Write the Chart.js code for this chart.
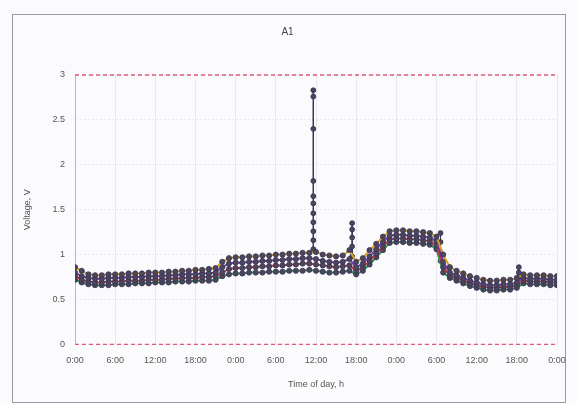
<!DOCTYPE html>
<html>
<head>
<meta charset="utf-8">
<script src="https://cdn.jsdelivr.net/npm/chart.js@4/dist/chart.umd.min.js"></script>
<style>
  html, body { margin: 0; padding: 0; background: #fbfbfd; }
  #wrap { width: 577px; height: 404px; position: relative; }
</style>
</head>
<body>
<div id="wrap"><canvas id="volt-chart" width="577" height="404"></canvas></div>
<script>
  // hours since start of the 3-day log
  var HOURS = [
    0, 1, 2, 3, 4, 5, 6, 7, 8, 9, 10, 11,
    12, 13, 14, 15, 16, 17, 18, 19, 20, 21, 22, 23,
    24, 25, 26, 27, 28, 29, 30, 31, 32, 33, 34, 35,
    36, 37, 38, 39, 40, 41, 42, 43, 44, 45, 46, 47,
    48, 49, 50, 51, 52, 53, 54, 55, 56, 57, 58, 59,
    60, 61, 62, 63, 64, 65, 66, 67, 68, 69, 70, 71,
    72
  ];

  var TICK_LABELS = ['0:00', '6:00', '12:00', '18:00', '0:00', '6:00', '12:00',
                     '18:00', '0:00', '6:00', '12:00', '18:00', '0:00'];

  var CELL_1 = [
    0.86, 0.82, 0.78, 0.77, 0.77, 0.78, 0.78, 0.78, 0.79, 0.79, 0.79, 0.80,
    0.80, 0.80, 0.81, 0.81, 0.82, 0.82, 0.83, 0.83, 0.84, 0.85, 0.92, 0.96,
    0.97, 0.97, 0.98, 0.98, 0.99, 0.99, 1.00, 1.00, 1.01, 1.01, 1.02, 1.02,
    1.03, 1.00, 0.99, 0.98, 0.99, 1.05, 0.92, 0.96, 1.05, 1.12, 1.20, 1.26,
    1.27, 1.27, 1.26, 1.26, 1.25, 1.24, 1.20, 1.00, 0.86, 0.82, 0.79, 0.76,
    0.74, 0.72, 0.71, 0.71, 0.72, 0.72, 0.74, 0.78, 0.77, 0.77, 0.77, 0.76,
    0.76
  ];
  var CELL_2 = [
    0.80, 0.76, 0.74, 0.73, 0.73, 0.74, 0.74, 0.74, 0.75, 0.75, 0.75, 0.76,
    0.76, 0.76, 0.77, 0.77, 0.78, 0.78, 0.78, 0.79, 0.79, 0.80, 0.86, 0.90,
    0.91, 0.91, 0.92, 0.92, 0.93, 0.93, 0.94, 0.94, 0.95, 0.95, 0.96, 0.96,
    0.95, 0.93, 0.92, 0.91, 0.92, 0.95, 0.86, 0.90, 0.98, 1.06, 1.14, 1.21,
    1.22, 1.22, 1.21, 1.21, 1.20, 1.19, 1.15, 0.92, 0.80, 0.77, 0.74, 0.71,
    0.69, 0.67, 0.66, 0.66, 0.67, 0.67, 0.69, 0.74, 0.73, 0.73, 0.73, 0.72,
    0.72
  ];
  var CELL_3 = [
    0.76, 0.72, 0.70, 0.69, 0.69, 0.70, 0.70, 0.70, 0.71, 0.71, 0.71, 0.72,
    0.72, 0.72, 0.73, 0.73, 0.74, 0.74, 0.74, 0.75, 0.75, 0.76, 0.80, 0.84,
    0.85, 0.85, 0.86, 0.86, 0.87, 0.87, 0.88, 0.88, 0.89, 0.89, 0.90, 0.90,
    0.89, 0.88, 0.87, 0.86, 0.87, 0.88, 0.82, 0.86, 0.93, 1.01, 1.09, 1.17,
    1.18, 1.18, 1.17, 1.17, 1.16, 1.15, 1.10, 0.86, 0.77, 0.74, 0.71, 0.68,
    0.66, 0.64, 0.63, 0.63, 0.64, 0.64, 0.66, 0.71, 0.70, 0.70, 0.70, 0.69,
    0.69
  ];
  var CELL_4 = [
    0.72, 0.69, 0.67, 0.66, 0.66, 0.66, 0.67, 0.67, 0.67, 0.68, 0.68, 0.68,
    0.69, 0.69, 0.69, 0.70, 0.70, 0.70, 0.71, 0.71, 0.71, 0.72, 0.76, 0.78,
    0.79, 0.79, 0.80, 0.80, 0.80, 0.81, 0.81, 0.81, 0.82, 0.82, 0.82, 0.83,
    0.82, 0.81, 0.80, 0.80, 0.81, 0.82, 0.78, 0.82, 0.89, 0.97, 1.05, 1.13,
    1.14, 1.14, 1.13, 1.13, 1.12, 1.11, 1.06, 0.80, 0.74, 0.71, 0.68, 0.65,
    0.63, 0.61, 0.60, 0.60, 0.61, 0.61, 0.63, 0.68, 0.67, 0.67, 0.67, 0.66,
    0.66
  ];

  // short transients, each read as a vertical run of samples
  var SPIKE_1_T = [35.6, 35.6, 35.6, 35.6, 35.6, 35.6, 35.6, 35.6, 35.6, 35.6, 35.6];
  var SPIKE_1_V = [2.83, 2.76, 2.40, 1.82, 1.65, 1.57, 1.46, 1.36, 1.26, 1.16, 1.06];
  var SPIKE_2_T = [41.4, 41.4, 41.4, 41.4, 41.4];
  var SPIKE_2_V = [1.35, 1.28, 1.19, 1.09, 0.98];
  var SPIKE_3_T = [54.6, 54.6, 54.6, 54.6];
  var SPIKE_3_V = [1.24, 1.14, 1.03, 0.93];
  var SPIKE_4_T = [66.3, 66.3, 66.3];
  var SPIKE_4_V = [0.86, 0.80, 0.75];

  var LIMIT_T = [0, 72];
  var LIMIT_HIGH = [3, 3];
  var LIMIT_LOW = [0, 0];

  function pts(xs, ys) {
    return xs.map(function (x, i) { return { x: x, y: ys[i] }; });
  }

  function cell(label, ys, color) {
    return {
      label: label,
      data: pts(HOURS, ys),
      borderColor: color,
      borderWidth: 2,
      pointRadius: 2.6,
      pointBackgroundColor: '#4a4660',
      pointBorderColor: '#3a3450',
      pointBorderWidth: 0.8
    };
  }

  function spike(ts, vs) {
    return {
      label: 'spike',
      data: pts(ts, vs),
      borderColor: '#3a3450',
      borderWidth: 1,
      pointRadius: 2.4,
      pointBackgroundColor: '#4a4660',
      pointBorderColor: '#3a3450'
    };
  }

  function limit(ys) {
    return {
      label: 'limit',
      data: pts(LIMIT_T, ys),
      borderColor: '#e0587e',
      borderWidth: 1.4,
      borderDash: [4, 3],
      pointRadius: 0,
      clip: 4
    };
  }

  var frame = {
    id: 'frame',
    beforeDraw: function (chart) {
      var ctx = chart.ctx;
      ctx.save();
      ctx.strokeStyle = '#9a9aa6';
      ctx.lineWidth = 1;
      ctx.strokeRect(12.5, 14.5, 553, 388);
      ctx.restore();
    }
  };

  var FONT = { family: 'Liberation Sans, Arial, sans-serif', size: 9 };

  new Chart(document.getElementById('volt-chart'), {
    type: 'line',
    data: {
      datasets: [
        limit(LIMIT_HIGH),
        limit(LIMIT_LOW),
        cell('Cell 1', CELL_1, '#d8a020'),
        cell('Cell 2', CELL_2, '#7a3aa8'),
        cell('Cell 3', CELL_3, '#c03a3a'),
        cell('Cell 4', CELL_4, '#2f9a52'),
        spike(SPIKE_1_T, SPIKE_1_V),
        spike(SPIKE_2_T, SPIKE_2_V),
        spike(SPIKE_3_T, SPIKE_3_V),
        spike(SPIKE_4_T, SPIKE_4_V)
      ]
    },
    options: {
      responsive: false,
      animation: false,
      layout: { padding: { left: 18, right: 20, top: 16, bottom: 9 } },
      plugins: {
        legend: { display: false },
        tooltip: { enabled: false },
        title: {
          display: true,
          text: 'A1',
          color: '#444',
          font: { family: FONT.family, size: 10, weight: 'normal' },
          padding: { top: 10, bottom: 37 }
        }
      },
      scales: {
        x: {
          type: 'linear',
          min: 0,
          max: 72,
          grid: { color: 'rgba(150,150,170,0.18)', drawTicks: false },
          border: { display: false },
          ticks: {
            stepSize: 6,
            color: '#555',
            font: FONT,
            padding: 11,
            maxRotation: 0,
            callback: function (v) { return TICK_LABELS[Math.round(v / 6)]; }
          },
          title: {
            display: true,
            text: 'Time of day, h',
            color: '#555',
            font: FONT,
            padding: { top: 2, bottom: 5 }
          }
        },
        y: {
          min: 0,
          max: 3,
          grid: { color: 'rgba(150,150,170,0.18)', drawTicks: false },
          border: { color: '#b8b8c4', dash: [2, 2] },
          ticks: {
            stepSize: 0.5,
            color: '#555',
            font: FONT,
            padding: 10,
            callback: function (v) { return String(v); }
          },
          title: {
            display: true,
            text: 'Voltage, V',
            color: '#555',
            font: FONT
          },
          afterFit: function (scale) { scale.width = 57; }
        }
      }
    },
    plugins: [frame]
  });
</script>
</body>
</html>
